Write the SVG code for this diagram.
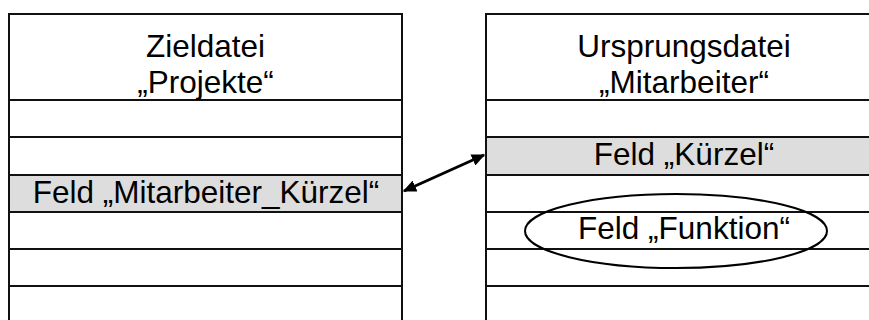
<svg xmlns="http://www.w3.org/2000/svg" width="869" height="320" viewBox="0 0 869 320">
<style>
.row{fill:#fff;stroke:#111;stroke-width:2}
.hl{fill:#ddd;stroke:#111;stroke-width:2}
.t{font-family:"Liberation Sans",Arial,sans-serif;font-size:31.5px;fill:#000;text-anchor:middle}
.arrow{stroke:#000;stroke-width:3;fill:none}
</style>
<defs>
<marker id="ah" viewBox="0 0 10 10" refX="9" refY="5" markerWidth="4.5" markerHeight="4" orient="auto-start-reverse" markerUnits="strokeWidth" preserveAspectRatio="none">
<path d="M0,0 L10,5 L0,10 Z" fill="#000"/>
</marker>
</defs>
<rect width="869" height="320" fill="#fff"/>
<g id="zieldatei">
<rect class="row" x="9" y="14" width="393" height="86"/>
<rect class="row" x="9" y="100" width="393" height="37"/>
<rect class="row" x="9" y="137" width="393" height="38"/>
<rect class="hl" x="9" y="175" width="393" height="37"/>
<rect class="row" x="9" y="212" width="393" height="37"/>
<rect class="row" x="9" y="249" width="393" height="37"/>
<rect class="row" x="9" y="286" width="393" height="40"/>
<text class="t" x="205.5" y="57">Zieldatei</text>
<text class="t" x="205.5" y="93">„Projekte“</text>
<text class="t" x="206" y="203">Feld „Mitarbeiter_Kürzel“</text>
</g>
<g id="ursprungsdatei">
<rect class="row" x="486" y="14" width="400" height="86"/>
<rect class="row" x="486" y="100" width="400" height="37"/>
<rect class="hl" x="486" y="137" width="400" height="38"/>
<rect class="row" x="486" y="175" width="400" height="37"/>
<rect class="row" x="486" y="212" width="400" height="37"/>
<rect class="row" x="486" y="249" width="400" height="37"/>
<rect class="row" x="486" y="286" width="400" height="40"/>
<text class="t" x="684" y="57">Ursprungsdatei</text>
<text class="t" x="684" y="93">„Mitarbeiter“</text>
<text class="t" x="684" y="165">Feld „Kürzel“</text>
<text class="t" x="684" y="239">Feld „Funktion“</text>
</g>
<g id="markierung">
<ellipse cx="676" cy="231" rx="151" ry="37" fill="none" stroke="#000" stroke-width="2"/>
</g>
<g id="connectors">
<line class="arrow" x1="404" y1="191" x2="484" y2="155" marker-start="url(#ah)" marker-end="url(#ah)"/>
</g>
</svg>
